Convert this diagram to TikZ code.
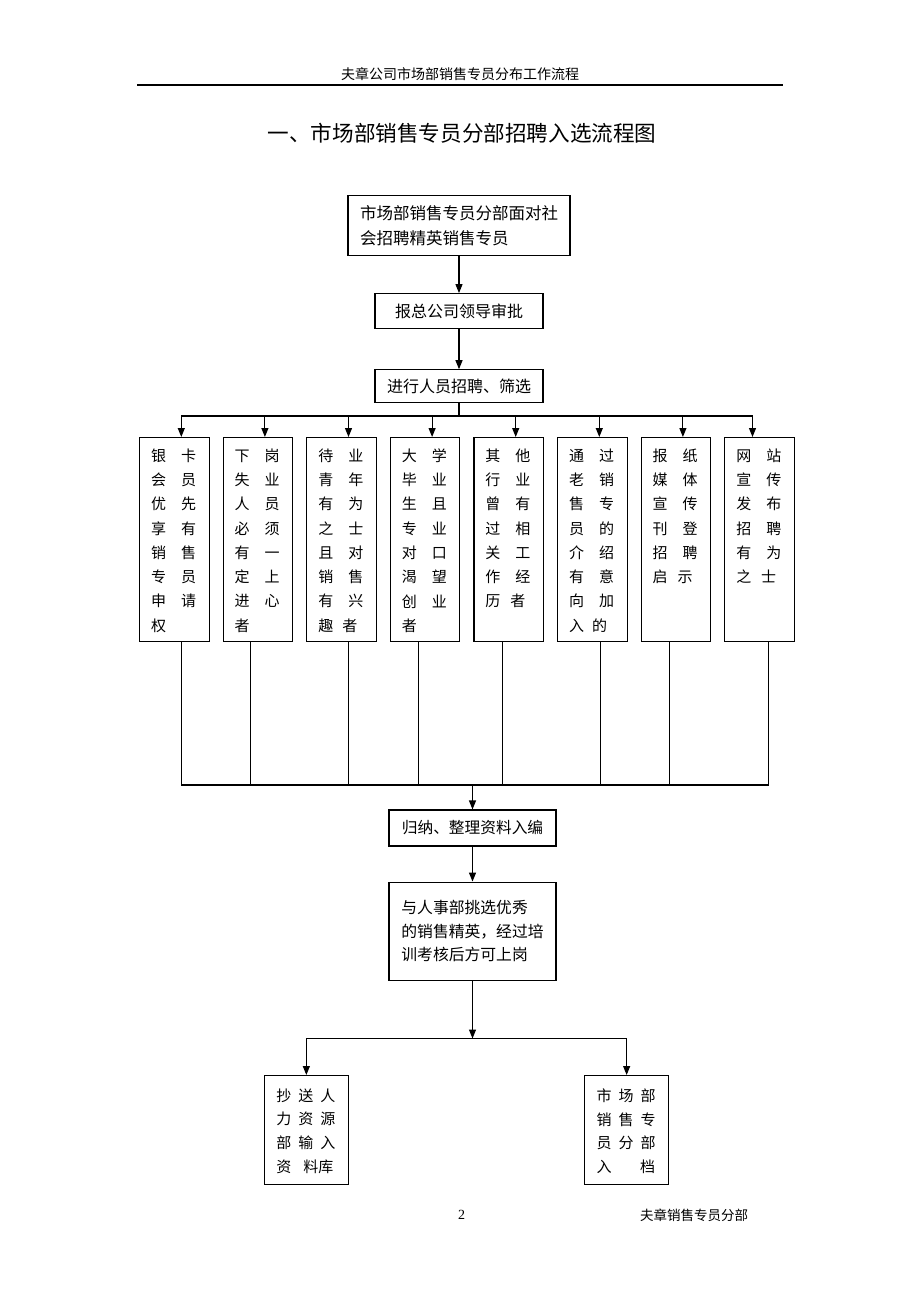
\documentclass[tikz,border=0pt]{standalone}
\usepackage{fontspec}
\newfontfamily\cjk{Noto Sans CJK SC}
\newfontfamily\numfont{Liberation Serif}
\usetikzlibrary{positioning,arrows.meta}
\newcommand{\cellbox}[3]{\parbox[t][#1][t]{#2}{#3}}

\begin{document}
\begin{tikzpicture}[x=1pt, y=-1pt, line width=1.1pt, >={Triangle[length=9pt,width=7pt]}]
\tikzstyle{box}=[draw, inner sep=0pt, font=\cjk\fontsize{16}{25}\selectfont]
\tikzstyle{colbox}=[draw, inner xsep=11.5pt, inner ysep=11pt, font=\cjk\fontsize{15}{24.3}\selectfont]
\tikzstyle{endbox}=[draw, inner xsep=11.8pt, inner ysep=13pt, font=\cjk\fontsize{15}{23.8}\selectfont]

\useasboundingbox (0,0) rectangle (920,1302);

% page head
\node[font=\cjk\fontsize{14}{14}\selectfont] (head) at (460,74) {夫章公司市场部销售专员分布工作流程};
\draw[line width=1.5pt] (137,85) -- (783,85);
\node[font=\cjk\fontsize{21.6}{22}\selectfont] (title) at (462,133) {一、市场部销售专员分部招聘入选流程图};

% recruiting
\node[box, anchor=north, align=left, inner xsep=12pt, minimum height=60pt, font=\cjk\fontsize{16.5}{25}\selectfont] (s1) at (459,195) {市场部销售专员分部面对社\\会招聘精英销售专员};
\node[box, minimum width=168pt, minimum height=35pt, below=37pt of s1] (s2) {报总公司领导审批};
\node[box, minimum width=168pt, minimum height=33pt, below=40pt of s2] (s3) {进行人员招聘、筛选};
\draw[->] (s1) -- (s2);
\draw[->] (s2) -- (s3);

% sources
\node[colbox, anchor=north west] (c1) at (139,437) {\cellbox{182pt}{46.5pt}{银\quad 卡\\会\quad 员\\优\quad 先\\享\quad 有\\销\quad 售\\专\quad 员\\申\quad 请\\权}};
\node[colbox, right=13pt of c1] (c2) {\cellbox{182pt}{46.5pt}{下\quad 岗\\失\quad 业\\人\quad 员\\必\quad 须\\有\quad 一\\定\quad 上\\进\quad 心\\者}};
\node[colbox, right=13pt of c2] (c3) {\cellbox{182pt}{46.5pt}{待\quad 业\\青\quad 年\\有\quad 为\\之\quad 士\\且\quad 对\\销\quad 售\\有\quad 兴\\趣\hspace{9pt}者}};
\node[colbox, right=13pt of c3] (c4) {\cellbox{182pt}{46.5pt}{大\quad 学\\毕\quad 业\\生\quad 且\\专\quad 业\\对\quad 口\\渴\quad 望\\创\quad 业\\者}};
\node[colbox, right=13pt of c4] (c5) {\cellbox{182pt}{46.5pt}{其\quad 他\\行\quad 业\\曾\quad 有\\过\quad 相\\关\quad 工\\作\quad 经\\历\hspace{10pt}者}};
\node[colbox, right=13pt of c5] (c6) {\cellbox{182pt}{46.5pt}{通\quad 过\\老\quad 销\\售\quad 专\\员\quad 的\\介\quad 绍\\有\quad 意\\向\quad 加\\入\hspace{8pt}的}};
\node[colbox, right=13pt of c6] (c7) {\cellbox{182pt}{46.5pt}{报\quad 纸\\媒\quad 体\\宣\quad 传\\刊\quad 登\\招\quad 聘\\启\hspace{10pt}示}};
\node[colbox, right=13pt of c7] (c8) {\cellbox{182pt}{46.5pt}{网\quad 站\\宣\quad 传\\发\quad 布\\招\quad 聘\\有\quad 为\\之\hspace{10pt}士}};

\foreach \c/\d in {c1/7,c2/7,c3/7,c4/7,c5/7,c6/7,c7/7,c8/-7}
  \draw[->] (s3.south) -- ++(0,12.7) -| ([xshift=\d pt]\c.north);

% collecting
\coordinate (busB) at (472.5,785);
\foreach \c/\d in {c1/7,c2/-7,c3/7,c4/-7,c5/-6,c6/8,c7/-6,c8/9}
  \draw ([xshift=\d pt]\c.south) |- (busB);

\node[box, minimum width=167pt, minimum height=36pt, font=\cjk\fontsize{15.7}{24}\selectfont] (n1) at (472.5,828) {归纳、整理资料入编};
\node[box, align=left, minimum width=167pt, minimum height=98pt, below=35pt of n1, font=\cjk\fontsize{15.8}{23.5}\selectfont] (n2) {与人事部挑选优秀\\的销售精英，经过培\\训考核后方可上岗};
\draw[->] (busB) -- (n1);
\draw[->] (n1) -- (n2);

% filing
\coordinate (busC) at (472.5,1038.5);
\node[endbox, anchor=north west] (d1) at (264,1075) {\cellbox{83pt}{60pt}{抄\hspace{7pt}送\hspace{7pt}人\\力\hspace{7pt}资\hspace{7pt}源\\部\hspace{7pt}输\hspace{7pt}入\\资\hspace{12pt}料库}};
\node[endbox, anchor=north west] (d2) at (584.3,1075) {\cellbox{83pt}{60pt}{市\hspace{7pt}场\hspace{7pt}部\\销\hspace{7pt}售\hspace{7pt}专\\员\hspace{7pt}分\hspace{7pt}部\\入\hspace{28.5pt}档}};
\draw[->] (n2) -- (busC);
\draw[->] (busC) -| (d1);
\draw[->] (busC) -| (d2);

% page foot
\node[font=\numfont\fontsize{14}{14}\selectfont] (pnum) at (461.7,1215) {2};
\node[font=\cjk\fontsize{13.5}{14}\selectfont] (foot) at (694,1215) {夫章销售专员分部};
\end{tikzpicture}
\end{document}
